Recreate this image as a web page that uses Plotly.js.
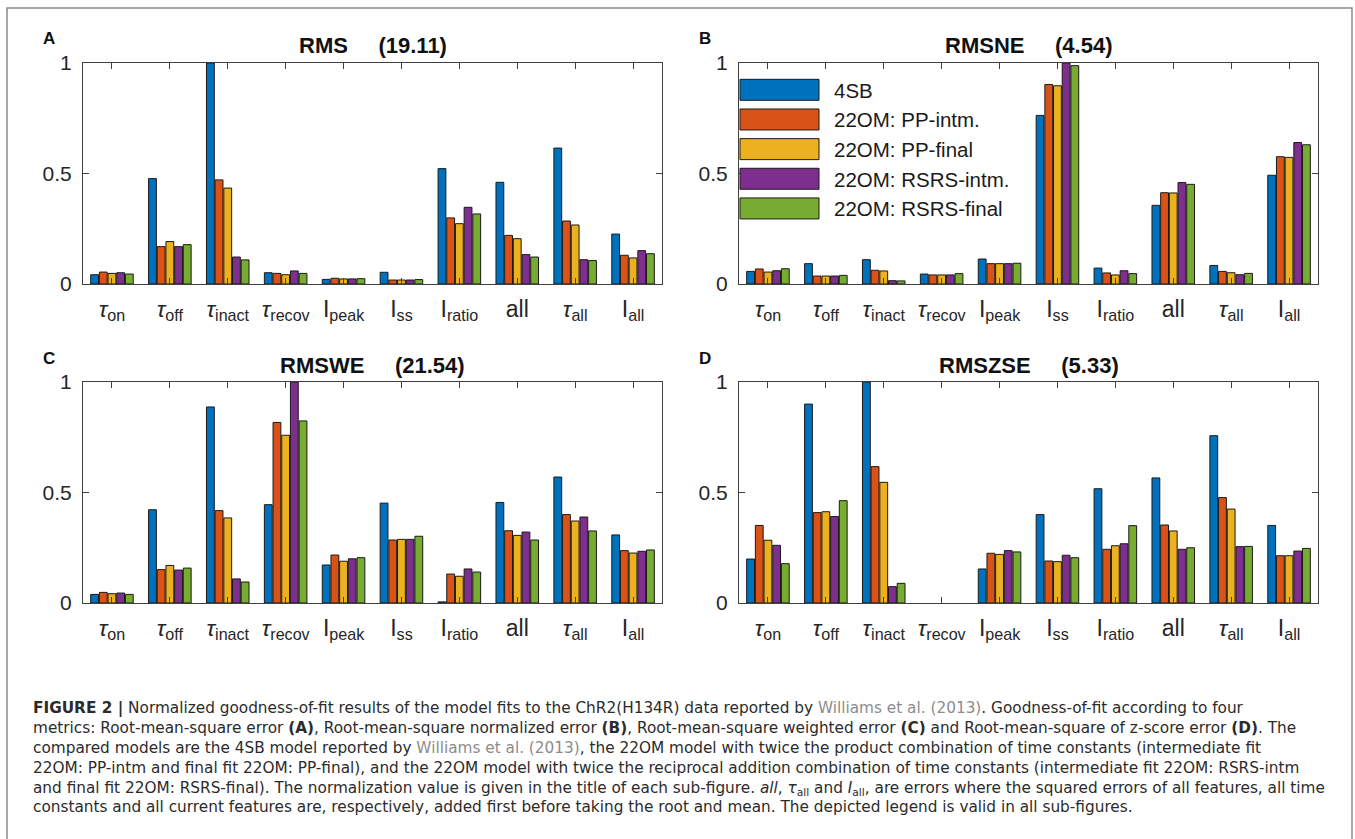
<!DOCTYPE html>
<html><head><meta charset="utf-8">
<script src="https://cdn.plot.ly/plotly-3.0.1.min.js"></script>
<style>html,body{margin:0;padding:0;background:#fff}</style>
</head><body>
<div id="chart" style="width:1355px;height:839px"></div>
<script>
// ---------------- data ----------------
const categories = [
  '<i>τ</i><sub>on</sub>', '<i>τ</i><sub>off</sub>', '<i>τ</i><sub>inact</sub>', '<i>τ</i><sub>recov</sub>',
  'I<sub>peak</sub>', 'I<sub>ss</sub>', 'I<sub>ratio</sub>', 'all', '<i>τ</i><sub>all</sub>', 'I<sub>all</sub>'
];
const seriesNames = ['4SB', '22OM: PP-intm.', '22OM: PP-final', '22OM: RSRS-intm.', '22OM: RSRS-final'];
const seriesColors = ['#0072BD', '#D95319', '#EDB120', '#7E2F8E', '#77AC30'];

// Panel A: RMS (19.11) — one row per series
const rmsValues = [
  [0.042, 0.477, 1.000, 0.051, 0.021, 0.053, 0.522, 0.460, 0.615, 0.226],
  [0.054, 0.169, 0.471, 0.048, 0.026, 0.018, 0.299, 0.220, 0.285, 0.130],
  [0.048, 0.192, 0.434, 0.042, 0.023, 0.018, 0.273, 0.205, 0.267, 0.118],
  [0.051, 0.169, 0.122, 0.059, 0.023, 0.018, 0.347, 0.133, 0.110, 0.151],
  [0.045, 0.178, 0.109, 0.048, 0.024, 0.020, 0.317, 0.122, 0.106, 0.137]
];
// Panel B: RMSNE (4.54)
const rmsneValues = [
  [0.057, 0.092, 0.110, 0.045, 0.113, 0.763, 0.072, 0.356, 0.084, 0.492],
  [0.068, 0.036, 0.062, 0.041, 0.092, 0.903, 0.050, 0.413, 0.057, 0.576],
  [0.054, 0.036, 0.059, 0.041, 0.092, 0.897, 0.041, 0.412, 0.051, 0.573],
  [0.060, 0.036, 0.015, 0.041, 0.092, 1.000, 0.060, 0.459, 0.042, 0.640],
  [0.069, 0.039, 0.014, 0.047, 0.094, 0.988, 0.047, 0.451, 0.048, 0.630]
];
// Panel C: RMSWE (21.54)
const rmsweValues = [
  [0.039, 0.422, 0.887, 0.445, 0.172, 0.452, 0.005, 0.455, 0.570, 0.308],
  [0.048, 0.151, 0.418, 0.817, 0.217, 0.285, 0.131, 0.327, 0.400, 0.237],
  [0.042, 0.170, 0.385, 0.759, 0.189, 0.288, 0.121, 0.306, 0.371, 0.226],
  [0.045, 0.149, 0.109, 1.000, 0.200, 0.288, 0.154, 0.321, 0.389, 0.234],
  [0.039, 0.158, 0.095, 0.824, 0.205, 0.302, 0.140, 0.285, 0.326, 0.240]
];
// Panel D: RMSZSE (5.33) — tau_recov not available
const rmszseValues = [
  [0.199, 0.900, 1.000, null, 0.154, 0.400, 0.517, 0.566, 0.757, 0.351],
  [0.351, 0.409, 0.617, null, 0.225, 0.190, 0.243, 0.353, 0.477, 0.214],
  [0.284, 0.413, 0.546, null, 0.220, 0.187, 0.259, 0.326, 0.425, 0.214],
  [0.261, 0.391, 0.074, null, 0.237, 0.216, 0.268, 0.243, 0.255, 0.235],
  [0.178, 0.463, 0.089, null, 0.231, 0.205, 0.350, 0.250, 0.256, 0.247]
];
const panelTitles = ['RMS\u00a0\u00a0\u00a0\u00a0\u00a0(19.11)', 'RMSNE\u00a0\u00a0\u00a0\u00a0\u00a0(4.54)', 'RMSWE\u00a0\u00a0\u00a0\u00a0\u00a0(21.54)', 'RMSZSE\u00a0\u00a0\u00a0\u00a0\u00a0(5.33)'];
const panelLetters = ['A', 'B', 'C', 'D'];
const yTickValues = [0, 0.5, 1];
const yTickLabels = ['0', '0.5', '1'];

const gray = '#8c8c8c';
const captionLines = [
  '<b>FIGURE 2 |</b> Normalized goodness-of-fit results of the model fits to the ChR2(H134R) data reported by <span style="color:' + gray + '">Williams et al. (2013)</span>. Goodness-of-fit according to four',
  'metrics: Root-mean-square error <b>(A)</b>, Root-mean-square normalized error <b>(B)</b>, Root-mean-square weighted error <b>(C)</b> and Root-mean-square of z-score error <b>(D)</b>. The',
  'compared models are the 4SB model reported by <span style="color:' + gray + '">Williams et al. (2013)</span>, the 22OM model with twice the product combination of time constants (intermediate fit',
  '22OM: PP-intm and final fit 22OM: PP-final), and the 22OM model with twice the reciprocal addition combination of time constants (intermediate fit 22OM: RSRS-intm',
  'and final fit 22OM: RSRS-final). The normalization value is given in the title of each sub-figure. <i>all</i>, <i>τ</i><sub>all</sub> and <i>I</i><sub>all</sub>, are errors where the squared errors of all features, all time',
  'constants and all current features are, respectively, added first before taking the root and mean. The depicted legend is valid in all sub-figures.'
];

// ---------------- layout helpers ----------------
const W = 1355, H = 839;
const px = x => x / W;
const py = y => 1 - y / H;
const panelValues = [rmsValues, rmsneValues, rmsweValues, rmszseValues];
// plot boxes in pixels: [left, right, top, bottom]
const boxes = [[83, 662, 63, 284], [739, 1318, 63, 284], [83, 662, 382, 603], [739, 1318, 382, 603]];
const FONT = 'Liberation Sans, Arial, Helvetica, sans-serif';
const CAPTION_FONT = 'DejaVu Sans, Verdana, sans-serif';
const axisColor = '#404040';
const textColor = '#262626';

const traces = [];
panelValues.forEach((vals, p) => {
  const sfx = p === 0 ? '' : String(p + 1);
  vals.forEach((arr, s) => {
    traces.push({
      type: 'bar',
      x: categories,
      y: arr,
      name: seriesNames[s],
      legendgroup: seriesNames[s],
      showlegend: p === 1,
      xaxis: 'x' + sfx,
      yaxis: 'y' + sfx,
      marker: { color: seriesColors[s], line: { color: '#1a1a1a', width: 1 } },
      hoverinfo: 'y+name'
    });
  });
});

const layout = {
  width: W, height: H,
  margin: { l: 0, r: 0, t: 0, b: 0 },
  paper_bgcolor: '#fff', plot_bgcolor: '#fff',
  barmode: 'group', bargap: 0.25, bargroupgap: 0.1,
  font: { family: FONT, color: textColor },
  showlegend: true,
  legend: {
    x: px(734), y: py(70), xanchor: 'left', yanchor: 'top',
    bgcolor: 'rgba(0,0,0,0)', borderwidth: 0,
    font: { family: FONT, size: 20.5, color: '#1a1a1a' },
    itemwidth: 90, tracegroupgap: 0, traceorder: 'normal',
    itemclick: false, itemdoubleclick: false
  },
  annotations: [],
  shapes: [{
    type: 'rect', xref: 'paper', yref: 'paper',
    x0: px(7), x1: px(1352), y0: py(850), y1: py(8),
    line: { color: '#8a8a8a', width: 1.5 }, fillcolor: 'rgba(0,0,0,0)', layer: 'below'
  }]
};

boxes.forEach((b, p) => {
  const sfx = p === 0 ? '' : String(p + 1);
  layout['xaxis' + sfx] = {
    domain: [px(b[0]), px(b[1])], anchor: 'y' + sfx,
    type: 'category', categoryorder: 'array', categoryarray: categories,
    showline: true, linecolor: axisColor, linewidth: 1, mirror: 'ticks',
    ticks: 'inside', ticklen: 6, tickcolor: axisColor, tickwidth: 1,
    showgrid: false, zeroline: false, fixedrange: true,
    tickfont: { family: FONT, size: 23, color: textColor },
    ticklabelstandoff: 4
  };
  layout['yaxis' + sfx] = {
    domain: [py(b[3]), py(b[2])], anchor: 'x' + sfx,
    range: [0, 1], tickvals: yTickValues, ticktext: yTickLabels,
    showline: true, linecolor: axisColor, linewidth: 1, mirror: 'ticks',
    ticks: 'inside', ticklen: 6, tickcolor: axisColor, tickwidth: 1,
    showgrid: false, zeroline: false, fixedrange: true,
    tickfont: { family: FONT, size: 21, color: textColor },
    ticklabelstandoff: 6
  };
  layout.annotations.push({
    xref: 'paper', yref: 'paper', x: px((b[0] + b[1]) / 2), y: py(b[2] - 17),
    xanchor: 'center', yanchor: 'middle', showarrow: false,
    text: '<b>' + panelTitles[p] + '</b>',
    font: { family: FONT, size: 22, color: '#111' }
  });
  layout.annotations.push({
    xref: 'paper', yref: 'paper', x: px(b[0] - 34), y: py(b[2] - 24),
    xanchor: 'center', yanchor: 'middle', showarrow: false,
    text: '<b>' + panelLetters[p] + '</b>',
    font: { family: FONT, size: 17, color: '#111' }
  });
});

// caption as one multi-line text block
layout.annotations.push({
  xref: 'paper', yref: 'paper', x: px(31), y: py(757),
  xanchor: 'left', yanchor: 'middle', showarrow: false, align: 'left',
  text: captionLines.join('<br>'),
  font: { family: CAPTION_FONT, size: 15.3, color: '#2b2b2b' }
});

Plotly.newPlot('chart', traces, layout, { displayModeBar: false }).then(gd => {
  // enlarge the legend patches to MATLAB-like wide swatches
  gd.querySelectorAll('.legend .legendpoints path').forEach(p => {
    p.setAttribute('d', 'M35,10.5H-44V-10.5H35Z');
  });
});
</script>
</body></html>
